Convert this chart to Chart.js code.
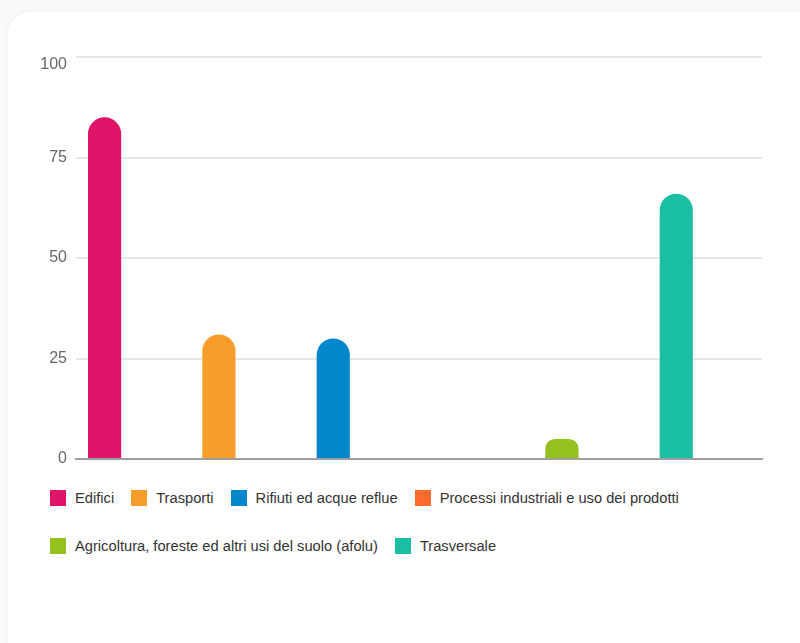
<!DOCTYPE html>
<html>
<head>
<meta charset="utf-8">
<script src="https://cdn.jsdelivr.net/npm/chart.js@4/dist/chart.umd.min.js"></script>
<style>
  html, body { margin: 0; padding: 0; background: #fafafa; }
  body { width: 800px; height: 643px; overflow: hidden; position: relative; font-family: "Liberation Sans", Arial, sans-serif; }
  .card {
    position: absolute; left: 8px; top: 12px; width: 820px; height: 660px;
    background: #fff; border-radius: 22px;
    box-shadow: 0 0 6px rgba(0, 0, 0, 0.05);
  }
  .chart-box { position: absolute; left: 0; top: 0; width: 800px; height: 476px; }
  #legend {
    position: absolute; left: 50px; top: 490px; width: 700px;
    display: flex; flex-wrap: wrap; row-gap: 32px;
  }
  .legend-item { display: flex; align-items: center; margin-right: 17px; height: 16px; }
  .legend-box { width: 16px; height: 16px; margin-right: 9px; }
  .legend-text { font-size: 14.7px; color: #333; line-height: 16px; }
</style>
</head>
<body>
<div class="card"></div>
<div class="chart-box"><canvas id="chart"></canvas></div>
<div id="legend"></div>
<script>
const categories = [
  'Edifici',
  'Trasporti',
  'Rifiuti ed acque reflue',
  'Processi industriali e uso dei prodotti',
  'Agricoltura, foreste ed altri usi del suolo (afolu)',
  'Trasversale'
];
const values = [85, 31, 30, 0, 5, 66];
const colors = ['#de1468', '#f89c2b', '#0287cc', '#ff6b2c', '#95c11f', '#1abea2'];
const yTicks = [0, 25, 50, 75, 100];

const chart = new Chart(document.getElementById('chart'), {
  type: 'bar',
  data: {
    labels: categories,
    datasets: [
      {
        data: values,
        backgroundColor: colors,
        borderRadius: 20,
        borderSkipped: 'start'
      },
      // empty second slot, keeps the bars on the left half of each category
      { data: [] }
    ]
  },
  options: {
    responsive: true,
    maintainAspectRatio: false,
    animation: false,
    datasets: { bar: { categoryPercentage: 1, barPercentage: 0.58 } },
    layout: { padding: { top: 57, right: 38, left: 30, bottom: 12 } },
    plugins: {
      legend: { display: false },
      tooltip: { enabled: false }
    },
    scales: {
      x: {
        grid: { display: false },
        ticks: { display: false },
        border: { color: '#9e9e9e', width: 2 },
        afterFit(scale) { scale.height = 0; }
      },
      y: {
        min: 0,
        max: 100,
        afterBuildTicks(scale) { scale.ticks = yTicks.map(v => ({ value: v })); },
        afterFit(scale) { scale.width = 46; },
        grid: { color: '#e6e6e6', lineWidth: 2, drawTicks: false },
        border: { display: false },
        ticks: {
          padding: 9,
          color: '#666',
          font: { family: '"Liberation Sans", Arial, sans-serif', size: 16, lineHeight: 1 },
          // top label sits a little below its grid line, as in the original
          callback: v => (v === 100 ? ['', String(v)] : String(v))
        }
      }
    }
  }
});

// legend built from the same arrays
const legendEl = document.getElementById('legend');
categories.forEach((name, i) => {
  const item = document.createElement('div');
  item.className = 'legend-item';
  item.innerHTML = `<span class="legend-box" style="background:${colors[i]}"></span><span class="legend-text">${name}</span>`;
  legendEl.appendChild(item);
});
</script>
</body>
</html>
